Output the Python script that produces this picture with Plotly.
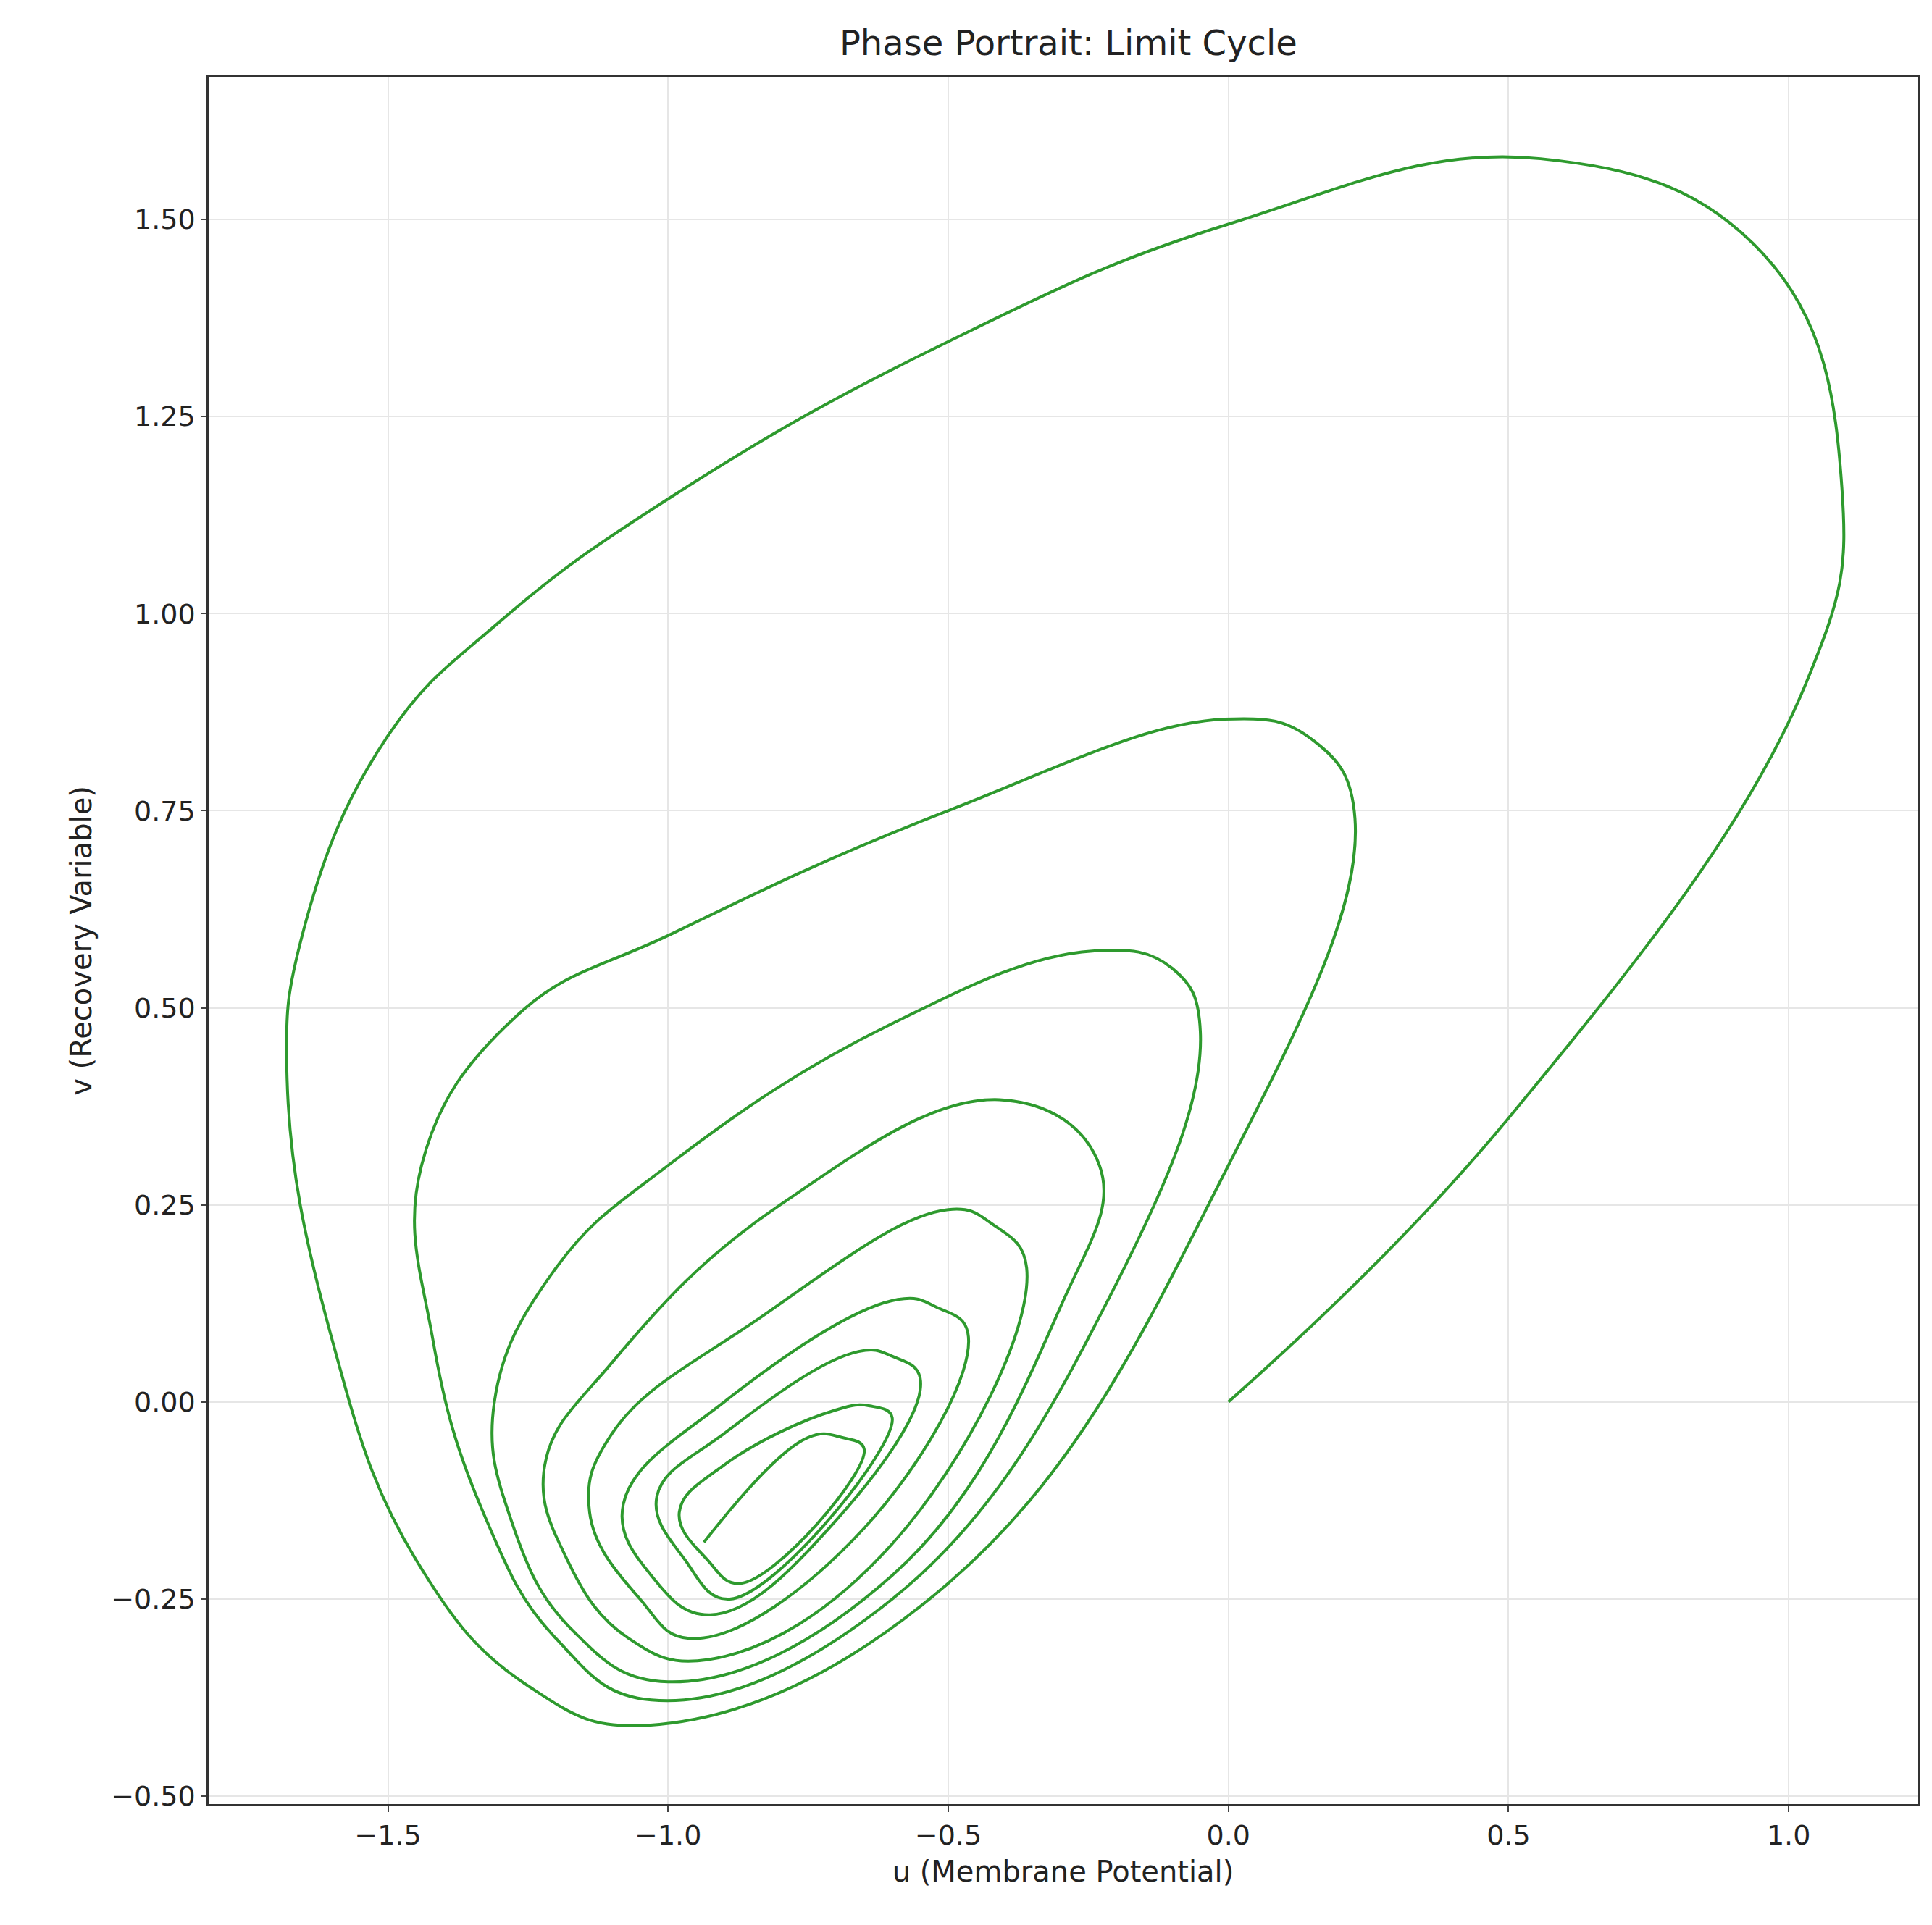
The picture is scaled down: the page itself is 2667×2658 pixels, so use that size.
import plotly.graph_objects as go

# trajectory (u, v)
u = [0, 0.5, 1.03, 1.095, 0.956, 0.557, 0, -0.5, -0.99, -1.3, -1.5, -1.65, -1.68, -1.6, -1.45, -1.25, -1.035,
     -0.5, 0, 0.226, 0.15, -0.007, -0.5, -0.99, -1.27, -1.44, -1.42, -1.33, -1.2, -1.03,
     -0.6, -0.2, -0.05, -0.1, -0.243, -0.6, -1.0, -1.2, -1.31, -1.28, -1.17, -1.0,
     -0.6, -0.3, -0.23, -0.4, -0.8, -1.1, -1.22, -1.18, -1.07, -0.93,
     -0.6, -0.36, -0.42, -0.5, -0.85, -1.1, -1.14, -1.05, -0.96,
     -0.65, -0.465, -0.52, -0.59, -0.9, -1.08, -1.03, -0.925,
     -0.7, -0.55, -0.6, -0.66, -0.9, -1.02, -0.97, -0.89,
     -0.6, -0.64, -0.70, -0.9, -0.98, -0.93, -0.87,
     -0.65, -0.69, -0.75, -0.936]
v = [0, 0.36, 0.91, 1.16, 1.455, 1.577, 1.494, 1.345, 1.15, 0.99, 0.845, 0.6, 0.41, 0.08, -0.2, -0.36, -0.41,
     -0.23, 0.30, 0.74, 0.84, 0.866, 0.75, 0.595, 0.49, 0.3, 0.08, -0.14, -0.3, -0.378,
     -0.25, 0.15, 0.47, 0.55, 0.572, 0.48, 0.30, 0.17, 0.0, -0.15, -0.29, -0.355,
     -0.22, 0.12, 0.30, 0.383, 0.25, 0.05, -0.08, -0.2, -0.3, -0.327,
     -0.18, 0.17, 0.225, 0.244, 0.1, -0.04, -0.14, -0.25, -0.30,
     -0.16, 0.088, 0.12, 0.13, 0.0, -0.13, -0.22, -0.27,
     -0.15, 0.03, 0.058, 0.064, -0.04, -0.12, -0.2, -0.25,
     -0.02, -0.005, -0.01, -0.08, -0.14, -0.2, -0.23,
     -0.06, -0.045, -0.045, -0.178]

x_ticks = [-1.5, -1.0, -0.5, 0.0, 0.5, 1.0]
x_labels = ["\u22121.5", "\u22121.0", "\u22120.5", "0.0", "0.5", "1.0"]
y_ticks = [-0.5, -0.25, 0, 0.25, 0.5, 0.75, 1.0, 1.25, 1.5]
y_labels = ["\u22120.50", "\u22120.25", "0.00", "0.25", "0.50", "0.75", "1.00", "1.25", "1.50"]

fig = go.Figure(go.Scatter(x=u, y=v, mode="lines",
                           line=dict(color="#2e9a2e", width=4, shape="spline", smoothing=1.2)))

axis_style = dict(showline=True, linecolor="#333", linewidth=2.5, mirror=True,
                  showgrid=True, gridcolor="#e6e6e6", gridwidth=2,
                  ticks="outside", ticklen=8, tickwidth=2, zeroline=False,
                  tickfont=dict(size=38, color="#222"))
fig.update_xaxes(range=[-1.82, 1.23], tickvals=x_ticks, ticktext=x_labels,
                 title=dict(text="u (Membrane Potential)", font=dict(size=40, color="#222")), **axis_style)
fig.update_yaxes(range=[-0.51, 1.68], tickvals=y_ticks, ticktext=y_labels,
                 title=dict(text="v (Recovery Variable)", font=dict(size=40, color="#222")), **axis_style)

fig.update_layout(width=2667, height=2658, template="plotly_white",
                  font=dict(family="DejaVu Sans"),
                  title=dict(text="Phase Portrait: Limit Cycle", x=0.55, xanchor="center", y=0.987,
                             font=dict(size=48, color="#222")),
                  margin=dict(l=280, r=28, t=99, b=175), showlegend=False,
                  plot_bgcolor="white", paper_bgcolor="white")
fig.write_html("out.html")
